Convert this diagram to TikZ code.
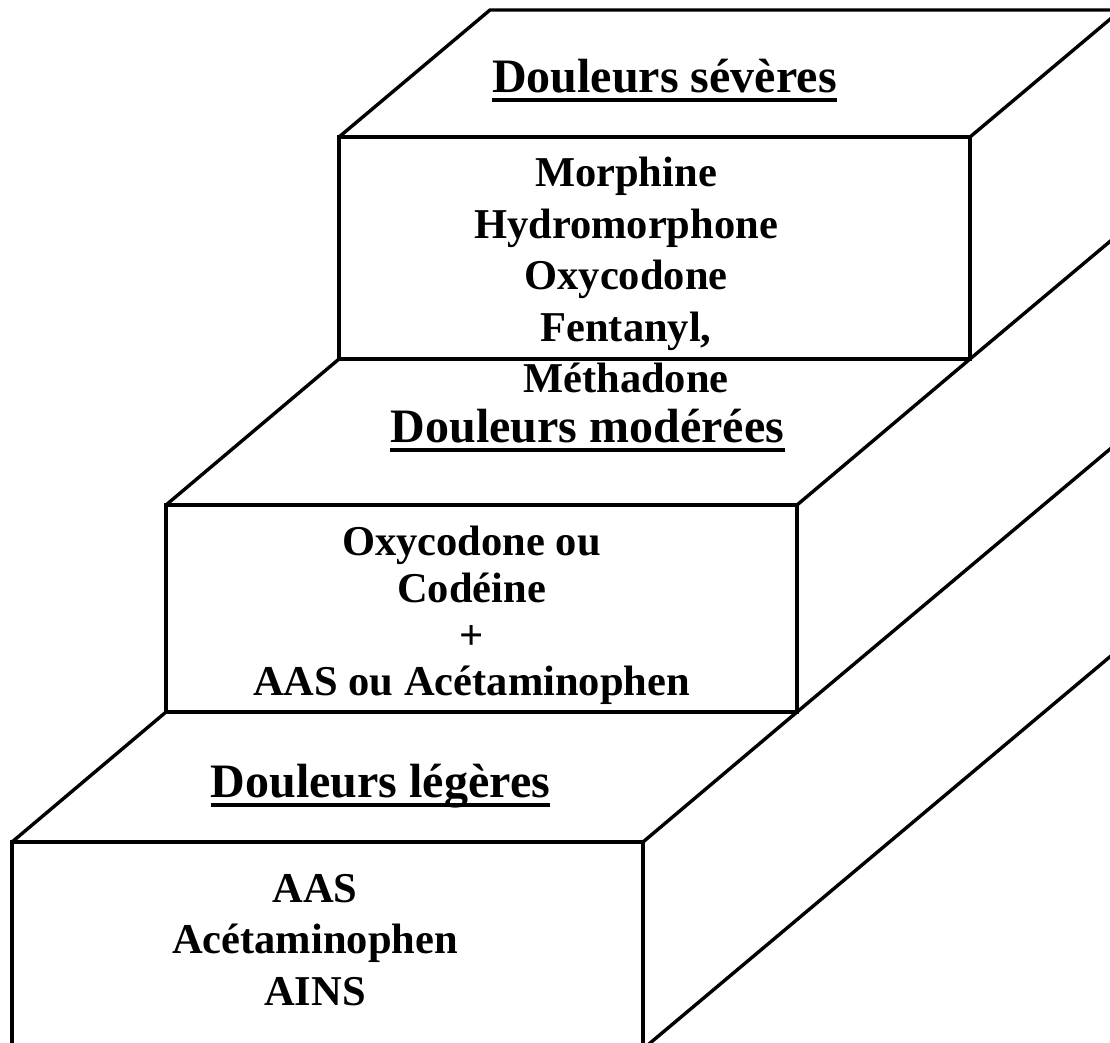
\documentclass[tikz,border=0pt]{standalone}
\usepackage{fontspec}
\setmainfont{Liberation Serif}
\usetikzlibrary{positioning}

\newcommand{\headfont}{\fontsize{24}{28}\selectfont\bfseries}
\newcommand{\drugfont}{\fontsize{21.25}{25.75}\selectfont\bfseries}
\newcommand{\drugfonttight}{\fontsize{21.25}{23.5}\selectfont\bfseries}

\begin{document}
\begin{tikzpicture}[x=0.5pt, y=-0.5pt,
  face/.style={draw, line width=1.7pt, anchor=north west, inner sep=0pt, outer sep=0pt, minimum width=315.5pt},
  edge/.style={line width=1.7pt},
  level/.style={font=\headfont, inner sep=0pt, anchor=base},
  uline/.style={line width=2pt},
  drugs/.style={font=\drugfont, align=center, inner sep=0pt, anchor=base}]
\useasboundingbox (0,0) rectangle (1110,1043);
\clip (0,0) rectangle (1110,1043);
% front faces of the three steps
\node[face, minimum height=111pt] (fsev) at (339,137) {};
\node[face, minimum height=103.5pt] (fmod) at (166,505) {};
\node[face, minimum height=103.5pt] (fleg) at (12,842) {};
% treads and side edges, running off to the back
\draw[edge] (fsev.north west) -- ++(151,-127) -- ++(800,0);
\draw[edge] (fsev.north east) -- ++(302,-254);
\draw[edge] (fmod.north west) -- (fsev.south west);
\draw[edge] (fmod.north east) -- (fsev.south east) -- ++(300,-252);
\draw[edge] (fleg.north west) -- (fmod.south west);
\draw[edge] (fleg.north east) -- (fmod.south east) -- ++(400,-336);
\draw[edge] (fleg.south east) -- ++(600,-504);
% labels (drug lists sit on their last baseline)
\node[level] (hsev) at (664.5,93) {Douleurs sévères};
\node[drugs] (dsev) at (626,393) {Morphine\\Hydromorphone\\Oxycodone\\Fentanyl,\\Méthadone};
\node[level] (hmod) at (587.5,443) {Douleurs modérées};
\node[drugs, font=\drugfonttight] (dmod) at (471.5,696) {Oxycodone ou\\Codéine\\+\\AAS ou Acétaminophen};
\node[level] (hleg) at (380.5,797) {Douleurs légères};
\node[drugs] (dleg) at (315,1005) {AAS\\Acétaminophen\\AINS};
\foreach \h in {hsev,hmod,hleg}
  \draw[uline] ([yshift=-3.75pt]\h.base west) -- ([yshift=-3.75pt]\h.base east);
\end{tikzpicture}
\end{document}
